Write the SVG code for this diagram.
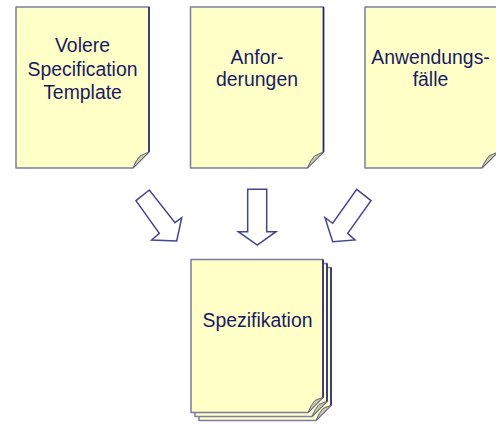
<svg xmlns="http://www.w3.org/2000/svg" xmlns:xlink="http://www.w3.org/1999/xlink" width="496" height="426" viewBox="0 0 496 426">
  <style>
    .page { fill: #ffffc8; stroke: #7c7ca0; stroke-width: 1.5; stroke-linejoin: round; }
    .edge { fill: none; stroke: #1e1e70; stroke-width: 1.5; }
    .flap { fill: #cdcc9e; stroke: #5e5e86; stroke-width: 1; stroke-linejoin: round; }
    .label { font-family: "Liberation Sans", Arial, sans-serif; font-size: 19.4px; fill: #1a1a62; text-anchor: middle; }
    .arrow { fill: #ffffff; stroke: #45458a; stroke-width: 1.5; stroke-linejoin: miter; }
  </style>
  <defs>
    <!-- single document sheet with a curled lower-right corner, 133 x 161 -->
    <g id="doc">
      <path class="page" d="M0,0 H133 V145 L117,161 H0 Z"/>
      <path class="edge" d="M133,0 V145"/>
      <path class="flap" d="M117,161 Q120,153 124,149 Q128,147 133,145 Z"/>
    </g>
    <!-- sheet of the stacked document, 132 x 153 -->
    <g id="sheet">
      <path class="page" d="M0,0 H132 V138 L117,153 H0 Z"/>
      <path class="edge" d="M132,0 V138"/>
      <path class="flap" d="M117,153 Q120,145 124,141 Q128,139 132,138 Z"/>
    </g>
  </defs>

  <g id="volere">
    <use xlink:href="#doc" x="16" y="7"/>
    <text class="label" x="82.5" y="52">Volere</text>
    <text class="label" x="82.5" y="75.5">Specification</text>
    <text class="label" x="82.5" y="98.5">Template</text>
  </g>

  <g id="anforderungen">
    <use xlink:href="#doc" x="190.5" y="7"/>
    <text class="label" x="257" y="64.3">Anfor-</text>
    <text class="label" x="257" y="86">derungen</text>
  </g>

  <g id="anwendungsfaelle">
    <use xlink:href="#doc" x="365" y="7"/>
    <text class="label" x="430.5" y="64.3">Anwendungs-</text>
    <text class="label" x="430.5" y="86">fälle</text>
  </g>

  <g id="connectors">
    <!-- block arrows pointing to the specification -->
    <path class="arrow" d="M136,200.7 L149.3,190 L175,222.7 L181.7,217.7 L176.7,241 L151.7,240 L159.3,233.3 Z"/>
    <path class="arrow" d="M247.7,189.3 H266.7 V231.7 H276 L257.3,245 L238.3,231.7 H247.7 Z"/>
    <path class="arrow" d="M371,200.7 L356.7,189.3 L332.7,223.3 L325,217.7 L332.7,241.7 L355,240 L347.7,233.3 Z"/>
  </g>

  <g id="spezifikation">
    <use xlink:href="#sheet" x="199" y="267.5"/>
    <use xlink:href="#sheet" x="195" y="263.5"/>
    <use xlink:href="#sheet" x="191" y="259.5"/>
    <text class="label" x="257.5" y="327.3">Spezifikation</text>
  </g>
</svg>
